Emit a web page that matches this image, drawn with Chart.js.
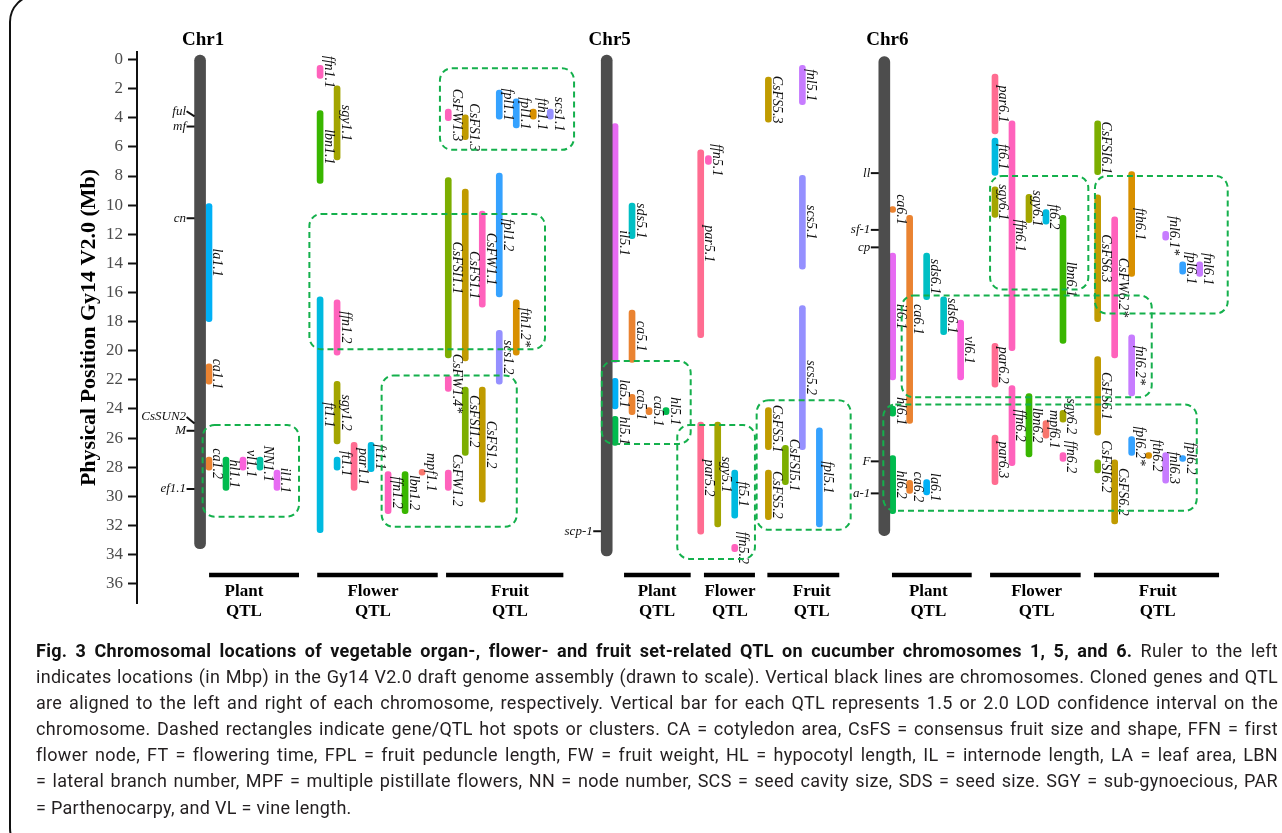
<!DOCTYPE html>
<html>
<head>
<meta charset="utf-8">
<script src="https://cdn.jsdelivr.net/npm/chart.js@4.4.1/dist/chart.umd.min.js"></script>
<style>
  body { margin: 0; background: #fff; width: 1282px; height: 833px; overflow: hidden; position: relative; }
  #frame { position: absolute; left: 9px; top: -6px; width: 1300px; height: 862px; border: 2.5px solid #111; border-radius: 28px; box-sizing: border-box; }
  #qtlChart { position: absolute; left: 0; top: 0; }
  #caption { position: absolute; left: 36px; top: 638px; width: 1242px; font-family: Roboto, "Noto Sans", sans-serif; font-size: 18px; letter-spacing: 0.3px; line-height: 26.1px; color: #231f20; }
  #caption div { text-align: justify; text-align-last: justify; }
  #caption div.last { text-align-last: left; }
  #caption b { color: #111; }
</style>
</head>
<body>
<div id="frame"></div>
<canvas id="qtlChart" width="1282" height="640"></canvas>
<div id="caption">
  <div><b>Fig. 3 Chromosomal locations of vegetable organ-, flower- and fruit set-related QTL on cucumber chromosomes 1, 5, and 6.</b> Ruler to the left</div>
  <div>indicates locations (in Mbp) in the Gy14 V2.0 draft genome assembly (drawn to scale). Vertical black lines are chromosomes. Cloned genes and QTL</div>
  <div>are aligned to the left and right of each chromosome, respectively. Vertical bar for each QTL represents 1.5 or 2.0 LOD confidence interval on the</div>
  <div>chromosome. Dashed rectangles indicate gene/QTL hot spots or clusters. CA = cotyledon area, CsFS = consensus fruit size and shape, FFN = first</div>
  <div>flower node, FT = flowering time, FPL = fruit peduncle length, FW = fruit weight, HL = hypocotyl length, IL = internode length, LA = leaf area, LBN</div>
  <div>= lateral branch number, MPF = multiple pistillate flowers, NN = node number, SCS = seed cavity size, SDS = seed size. SGY = sub-gynoecious, PAR</div>
  <div class="last">= Parthenocarpy, and VL = vine length.</div>
</div>
<script>
// ---- data (Mb) ----
const tickValues = [0, 2, 4, 6, 8, 10, 12, 14, 16, 18, 20, 22, 24, 26, 28, 30, 32, 34, 36];

const chromNames = ['Chr1', 'Chr5', 'Chr6'];
const chromStart = [-0.3, -0.3, -0.2];
const chromEnd   = [33.6, 34.1, 32.7];

// cloned genes, left of each chromosome (pos = contact on chromosome, tag = label height)
const chr1Genes = ['ful', 'mf', 'cn', 'CsSUN2', 'M', 'ef1.1'];
const chr1GenePos = [3.9, 4.6, 10.9, 25.0, 25.5, 29.5];
const chr1GeneTag = [3.55, 4.6, 10.9, 24.55, 25.5, 29.5];
const chr5Genes = ['scp-1'];
const chr5GenePos = [32.4];
const chr5GeneTag = [32.4];
const chr6Genes = ['ll', 'sf-1', 'cp', 'F', 'a-1'];
const chr6GenePos = [7.8, 11.7, 12.9, 27.6, 29.8];
const chr6GeneTag = [7.8, 11.7, 12.9, 27.6, 29.8];

// QTL: group P = plant, F = flower, R = fruit; lane = column inside the group
const chr1Qtl = ['la1.1', 'ca1.1', 'ca1.2', 'hl1.1', 'vl1.1', 'NN1.1', 'il1.1',
  'ffn1.1', 'sgy1.1', 'lbn1.1', 'ft1.1', 'ffn1.2', 'sgy1.2', 'ft1.1', 'par1.1', 'ft1.1', 'ffn1.2', 'lbn1.2', 'mpf1.1',
  'CsFW1.3', 'CsFS1.3', 'fpl1.1', 'fpl1.1', 'fth1.1', 'scs1.1', 'CsFSI1.1', 'CsFS1.1', 'CsFW1.1', 'fpl1.2', 'fth1.2*', 'scs1.2', 'CsFW1.4*', 'CsFSI1.2', 'CsFS1.2', 'CsFW1.2'];
const chr1Group = ['P', 'P', 'P', 'P', 'P', 'P', 'P',
  'F', 'F', 'F', 'F', 'F', 'F', 'F', 'F', 'F', 'F', 'F', 'F',
  'R', 'R', 'R', 'R', 'R', 'R', 'R', 'R', 'R', 'R', 'R', 'R', 'R', 'R', 'R', 'R'];
const chr1Lane = [0, 0, 0, 1, 2, 3, 4,
  0, 1, 0, 0, 1, 1, 1, 2, 3, 4, 5, 6,
  0, 1, 3, 4, 5, 6, 0, 1, 2, 3, 4, 3, 0, 1, 2, 0];
const chr1From = [9.9, 20.9, 27.3, 27.3, 27.3, 27.3, 28.2,
  0.4, 1.8, 3.5, 16.3, 16.5, 22.1, 27.3, 26.3, 26.3, 28.3, 28.3, 28.15,
  3.4, 3.8, 2.1, 2.7, 3.4, 3.4, 8.1, 8.9, 10.4, 7.8, 16.5, 18.6, 21.7, 22.5, 22.5, 28.2];
const chr1To = [18.0, 22.3, 28.2, 29.6, 28.2, 28.2, 29.6,
  1.3, 6.9, 8.5, 32.5, 20.3, 26.4, 28.2, 29.6, 28.3, 31.2, 31.2, 28.55,
  4.2, 5.5, 4.1, 4.7, 4.1, 4.1, 20.5, 20.7, 17.0, 16.3, 20.3, 22.3, 22.8, 27.2, 30.4, 29.6];

const chr5Qtl = ['il5.1', 'sds5.1', 'ca5.1', 'la5.1', 'ca5.1', 'ca5.1', 'hl5.1', 'hl5.1',
  'ffn5.1', 'par5.1', 'par5.2', 'sgy5.1', 'ft5.1', 'ffn5.2',
  'fnl5.1', 'CsFS5.3', 'scs5.1', 'scs5.2', 'CsFS5.1', 'CsFSI5.1', 'CsFS5.2', 'fpl5.1'];
const chr5Group = ['P', 'P', 'P', 'P', 'P', 'P', 'P', 'P',
  'F', 'F', 'F', 'F', 'F', 'F',
  'R', 'R', 'R', 'R', 'R', 'R', 'R', 'R'];
const chr5Lane = [0, 1, 1, 0, 1, 2, 3, 0,
  0.45, 0, 0, 1, 2, 2,
  2, 0, 2, 2, 0, 1, 0, 3];
const chr5From = [4.4, 9.85, 17.2, 21.9, 23.0, 23.9, 23.9, 24.5,
  6.6, 6.2, 24.9, 24.9, 28.2, 33.3,
  0.4, 1.2, 7.95, 16.9, 23.9, 26.5, 28.2, 25.3];
const chr5To = [20.8, 12.3, 20.8, 24.0, 24.4, 24.4, 24.4, 26.5,
  7.2, 19.1, 32.6, 32.1, 31.5, 33.8,
  3.1, 4.3, 14.4, 26.8, 26.8, 29.2, 31.6, 32.1];

const chr6Qtl = ['ca6.1', 'ca6.1', 'il6.1', 'sds6.1', 'sds6.1', 'vl6.1', 'hl6.1', 'hl6.2', 'ca6.2', 'la6.1',
  'par6.1', 'ft6.1', 'ffn6.1', 'sgy6.1', 'sgy6.1', 'ft6.2', 'lbn6.1', 'par6.2', 'ffn6.2', 'par6.3', 'lbn6.2', 'mpf6.1', 'sgy6.2', 'ffn6.2',
  'CsFSI6.1', 'fth6.1', 'CsFS6.3', 'CsFW6.2*', 'fnl6.1*', 'fpl6.1', 'fnl6.1', 'fnl6.2*', 'CsFS6.1', 'CsFSI6.2', 'CsFS6.2', 'fpl6.2*', 'fth6.2', 'fnl6.3', 'fpl6.2'];
const chr6Group = ['P', 'P', 'P', 'P', 'P', 'P', 'P', 'P', 'P', 'P',
  'F', 'F', 'F', 'F', 'F', 'F', 'F', 'F', 'F', 'F', 'F', 'F', 'F', 'F',
  'R', 'R', 'R', 'R', 'R', 'R', 'R', 'R', 'R', 'R', 'R', 'R', 'R', 'R', 'R'];
const chr6Lane = [0, 1, 0, 2, 3, 4, 0, 0, 1, 2,
  0, 0, 1, 0, 2, 3, 4, 0, 1, 0, 2, 3, 4, 4,
  0, 2, 0, 1, 4, 5, 6, 2, 0, 0, 1, 2, 3, 4, 5];
const chr6From = [10.1, 10.7, 13.3, 13.3, 16.3, 17.9, 23.8, 27.2, 28.9, 28.85,
  1.0, 5.4, 4.2, 8.75, 9.25, 10.3, 10.7, 19.5, 22.4, 25.8, 22.95, 24.8, 24.1, 27.0,
  4.2, 7.7, 9.3, 10.8, 11.8, 13.9, 13.9, 18.9, 20.4, 27.5, 27.5, 25.9, 27.0, 27.0, 27.2];
const chr6To = [10.5, 25.0, 22.0, 16.5, 18.9, 22.0, 24.5, 31.2, 29.8, 29.9,
  5.1, 7.95, 20.0, 10.85, 11.2, 11.3, 19.5, 22.5, 27.9, 29.2, 27.3, 26.0, 24.9, 27.6,
  7.9, 14.9, 18.0, 20.5, 12.4, 14.75, 14.9, 23.1, 25.8, 28.4, 31.9, 27.2, 27.4, 29.1, 27.6];

// hot spots / clusters: [lane from, lane to, Mb from, Mb to]
const clusters = [
  [3.86, 9.53, 25.1, 31.4], [10.14, 24.0, 10.6, 19.9], [14.39, 22.34, 21.7, 32.1], [17.82, 25.71, 0.6, 6.2],
  [27.34, 32.57, 20.7, 26.4], [31.78, 36.35, 25.1, 34.3], [36.45, 41.98, 23.4, 32.3],
  [44.98, 59.69, 16.2, 23.2], [43.9, 62.34, 23.7, 31.0], [50.18, 55.96, 8.0, 15.8], [56.35, 64.16, 8.0, 17.45]
];

const groupNames = ['Plant', 'Flower', 'Fruit'];

// ---- layout (x axis in lane units, 17 px each) ----
const chromLane = [3.71, 27.63, 43.96];
const groupStart = [[4.235, 10.77, 18.31], [28.12, 33.16, 37.14], [44.45, 50.47, 56.51]];
const groupSpan = [[[4.24, 9.53], [10.6, 17.69], [18.18, 25.08]],
                   [[28.65, 32.57], [33.35, 36.35], [37.08, 41.31]],
                   [[44.41, 49.1], [50.18, 55.51], [56.29, 63.65]]];
const groupLabelAt = [[6.29, 13.88, 21.94], [30.59, 34.88, 39.69], [46.55, 52.92, 60.04]];

const traitColours = {
  mpf: '#F8766D', ca: '#EA8331', fth: '#D89000', CsFS: '#C09B00', sgy: '#A3A500',
  CsFSI: '#7CAE00', lbn: '#39B600', hl: '#00BB4E', NN: '#00C1A3', sds: '#00BFC4',
  ft: '#00BAE0', la: '#00B0F6', fpl: '#35A2FF', scs: '#9590FF', fnl: '#C77CFF',
  il: '#E76BF3', vl: '#FA62DB', ffn: '#FF62BC', CsFW: '#FF62BC', par: '#FF6C91'
};
const traitOf = name => name.replace(/[0-9].*$/, '');

const qtlSets = [
  [chr1Qtl, chr1Group, chr1Lane, chr1From, chr1To],
  [chr5Qtl, chr5Group, chr5Lane, chr5From, chr5To],
  [chr6Qtl, chr6Group, chr6Lane, chr6From, chr6To]
];
const geneSets = [
  [chr1Genes, chr1GenePos, chr1GeneTag],
  [chr5Genes, chr5GenePos, chr5GeneTag],
  [chr6Genes, chr6GenePos, chr6GeneTag]
];

const qtlPoints = [];
qtlSets.forEach(([names, groups, lanes, from, to], c) => {
  names.forEach((name, i) => {
    const g = 'PFR'.indexOf(groups[i]);
    qtlPoints.push({ x: groupStart[c][g] + lanes[i], y: [from[i], to[i]], name: name });
  });
});
const chromPoints = chromNames.map((n, i) => ({ x: chromLane[i], y: [chromStart[i], chromEnd[i]], name: n }));

const serif = '"Liberation Serif", "Times New Roman", serif';

const decor = {
  id: 'decor',
  afterDatasetsDraw(chart) {
    const { ctx, chartArea } = chart;
    const xs = chart.scales.x, ys = chart.scales.y;
    ctx.save();

    // QTL labels, rotated, right of each bar
    const meta = chart.getDatasetMeta(1);
    ctx.font = 'italic 14px ' + serif;
    ctx.fillStyle = '#111';
    ctx.textAlign = 'center';
    ctx.textBaseline = 'alphabetic';
    meta.data.forEach((bar, i) => {
      const mid = (bar.y + bar.base) / 2;
      ctx.save();
      ctx.translate(bar.x + 4.5, mid);
      ctx.rotate(Math.PI / 2);
      ctx.fillText(qtlPoints[i].name, 0, 0);
      ctx.restore();
    });

    // cloned genes
    ctx.strokeStyle = '#111';
    ctx.lineWidth = 2;
    ctx.font = 'italic 13px ' + serif;
    ctx.textAlign = 'right';
    ctx.textBaseline = 'middle';
    geneSets.forEach(([genes, pos, tag], c) => {
      const edge = xs.getPixelForValue(chromLane[c]) - 5.5;
      genes.forEach((g, i) => {
        const yp = ys.getPixelForValue(pos[i]);
        const yt = ys.getPixelForValue(tag[i]);
        ctx.beginPath();
        ctx.moveTo(edge - 8, yt);
        ctx.lineTo(edge, yp);
        ctx.stroke();
        ctx.fillText(g, edge - 8.5, yt);
      });
    });

    // dashed cluster boxes
    ctx.strokeStyle = '#14B04C';
    ctx.lineWidth = 2;
    ctx.setLineDash([6, 4]);
    clusters.forEach(([a, b, t, d]) => {
      const x1 = xs.getPixelForValue(a), x2 = xs.getPixelForValue(b);
      const y1 = ys.getPixelForValue(t), y2 = ys.getPixelForValue(d);
      const r = 12;
      ctx.beginPath();
      ctx.moveTo(x1 + r, y1);
      ctx.arcTo(x2, y1, x2, y2, r);
      ctx.arcTo(x2, y2, x1, y2, r);
      ctx.arcTo(x1, y2, x1, y1, r);
      ctx.arcTo(x1, y1, x2, y1, r);
      ctx.closePath();
      ctx.stroke();
    });
    ctx.setLineDash([]);

    // chromosome titles
    ctx.fillStyle = '#000';
    ctx.font = 'bold 19px ' + serif;
    ctx.textAlign = 'center';
    chromNames.forEach((n, i) => {
      ctx.fillText(n, xs.getPixelForValue(chromLane[i]) + 3, chartArea.top - 12);
    });

    // group bars and labels
    const lineY = chartArea.bottom - 28;
    ctx.strokeStyle = '#000';
    ctx.lineWidth = 4.5;
    ctx.font = 'bold 17px ' + serif;
    groupSpan.forEach((spans, c) => {
      spans.forEach(([a, b], g) => {
        ctx.beginPath();
        ctx.moveTo(xs.getPixelForValue(a), lineY);
        ctx.lineTo(xs.getPixelForValue(b), lineY);
        ctx.stroke();
        const cx = xs.getPixelForValue(groupLabelAt[c][g]);
        ctx.fillText(groupNames[g], cx, lineY + 17);
        ctx.fillText('QTL', cx, lineY + 37);
      });
    });
    ctx.restore();
  }
};

const ctx = document.getElementById('qtlChart').getContext('2d');
const qtlChart = new Chart(ctx, {
  type: 'bar',
  data: {
    datasets: [{
      label: 'chromosomes',
      data: chromPoints,
      backgroundColor: '#4D4D4D',
      barThickness: 11,
      borderRadius: 5.5,
      borderSkipped: false
    }, {
      label: 'QTL',
      data: qtlPoints,
      backgroundColor: c => traitColours[traitOf(c.raw.name)] || '#888',
      barThickness: 6,
      borderRadius: 3,
      borderSkipped: false
    }]
  },
  options: {
    responsive: false,
    animation: false,
    grouped: false,
    layout: { padding: { left: 70, top: 52, right: 40, bottom: 37 } },
    plugins: { legend: { display: false }, tooltip: { enabled: false } },
    scales: {
      x: { type: 'linear', min: 0, max: 65, offset: false, display: false },
      y: {
        type: 'linear',
        reverse: true,
        min: -0.52,
        max: 37.33,
        afterBuildTicks: s => { s.ticks = tickValues.map(v => ({ value: v })); },
        afterFit: s => { s.width = 67; },
        ticks: { autoSkip: false, color: '#4d4d4d', padding: 5, font: { family: serif, size: 17 } },
        grid: { display: true, drawOnChartArea: false, drawTicks: true, tickLength: 9, tickColor: '#111', tickWidth: 2 },
        border: { display: true, color: '#111', width: 2 },
        title: {
          display: true,
          text: 'Physical Position Gy14 V2.0 (Mb)',
          color: '#000',
          font: { family: serif, size: 22, weight: 'bold' },
          padding: { top: 6, bottom: 0 }
        }
      }
    }
  },
  plugins: [decor]
});
</script>
</body>
</html>
